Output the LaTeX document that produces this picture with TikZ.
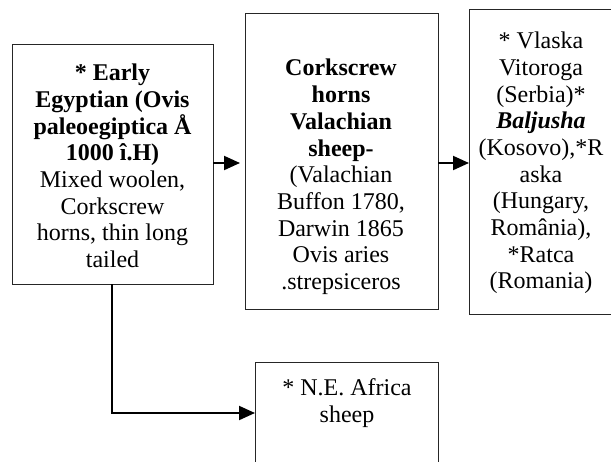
\documentclass[tikz,border=0pt]{standalone}
\usepackage{fontspec}
\setmainfont{Liberation Serif}
\usetikzlibrary{arrows.meta}
\begin{document}
\begin{tikzpicture}[x=1pt,y=-1pt,
  boxframe/.style={draw=black!85,line width=0.9pt},
  boxtext/.style={align=center,inner sep=0pt,font=\fontsize{24}{26.7}\selectfont},
  conn/.style={line width=2pt,-{Triangle[length=16pt,width=14pt]}}]
\useasboundingbox (0,0) rectangle (611,461);
% boxes
\draw[boxframe] (12,44) rectangle (213,284);
\draw[boxframe] (245,13) rectangle (438,309);
\draw[boxframe] (469,9) rectangle (613,314);
\draw[boxframe] (255,470) -- (255,362) -- (438,362) -- (438,470);
\coordinate (b1e) at (213,163);
\coordinate (b1s) at (112,284);
\coordinate (b2w) at (240,163);
\coordinate (b2e) at (438,163);
\coordinate (b3w) at (469,163);
\coordinate (b4w) at (255,413);
% texts
\node[boxtext] (t1) at (112.5,166) {\textbf{* Early}\\\textbf{Egyptian (Ovis}\\\textbf{paleoegiptica Å}\\\textbf{1000 î.H)}\\Mixed woolen,\\Corkscrew\\horns, thin long\\tailed};
\node[boxtext] (t2) at (341,177) {\textbf{Corkscrew}\\\textbf{horns}\\\textbf{Valachian}\\\textbf{sheep-}\\(Valachian\\Buffon 1780,\\Darwin 1865\\Ovis aries\\.strepsiceros};
\node[boxtext] (t3) at (541,163) {* Vlaska\\Vitoroga\\(Serbia)*\\\textbf{\textit{Baljusha}}\\(Kosovo),*R\\aska\\(Hungary,\\România),\\*Ratca\\(Romania)};
\node[boxtext] (t4) at (347,403) {* N.E. Africa\\sheep};
% connectors
\draw[conn] (b1e) -- (b2w);
\draw[conn] (b2e) -- (b3w);
\draw[conn] (b1s) |- (b4w);
\end{tikzpicture}
\end{document}
